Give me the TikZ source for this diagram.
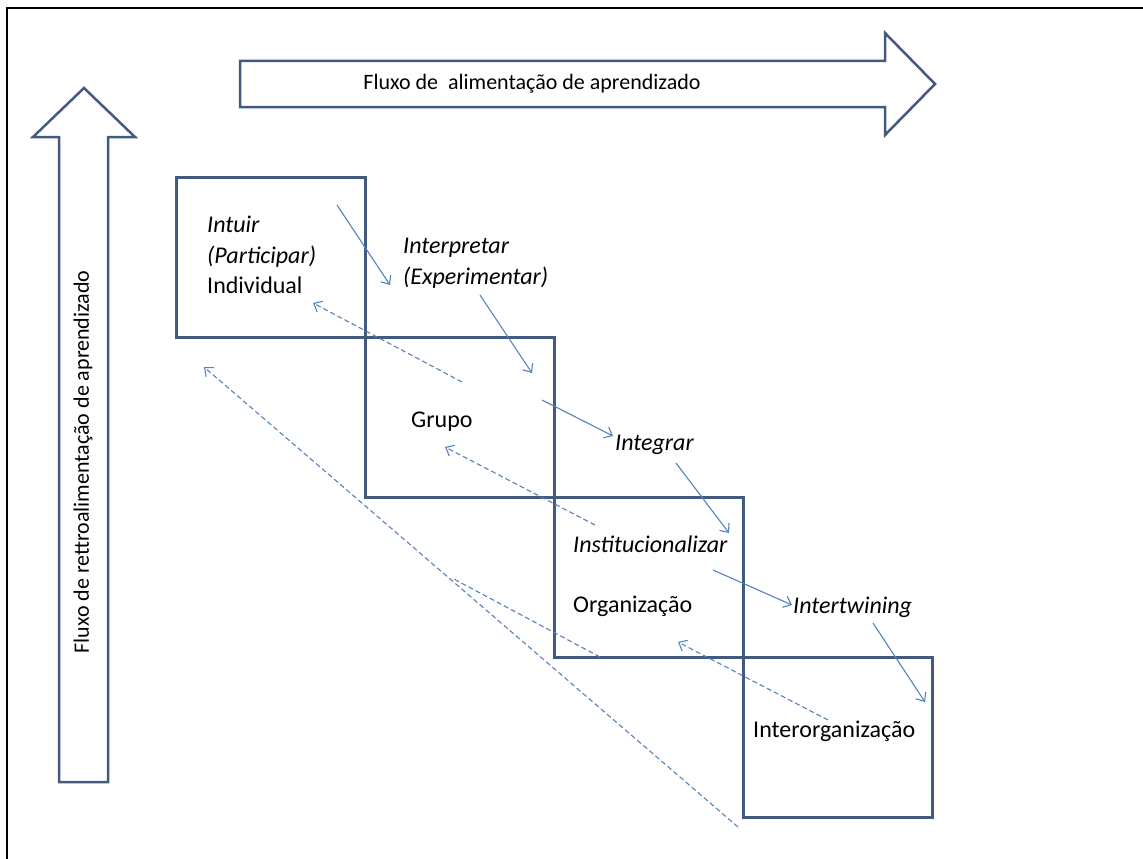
\documentclass[tikz,border=0pt]{standalone}
\usepackage{fontspec}
\setmainfont{Carlito}
\usetikzlibrary{positioning,arrows.meta}
\definecolor{boxblue}{RGB}{65,90,126}
\definecolor{linkblue}{RGB}{84,130,188}
\tikzset{%
stage/.style={draw=boxblue,line width=3pt,outer sep=0pt,inner sep=0pt,
  minimum width=189pt,minimum height=160pt},
lbl/.style={anchor=west,inner sep=0pt,text height=16pt,text depth=5pt,
  font=\fontsize{24}{28}\selectfont},
lblit/.style={lbl,font=\fontsize{24}{28}\selectfont\itshape},
blockarrow/.style={draw=boxblue,line width=2.5pt,line join=miter},
flow/.style={->,>={Straight Barb[length=7pt,width=12pt]},draw=linkblue,line width=1.1pt},
back/.style={flow,dash pattern=on 5pt off 3pt},
}
\begin{document}
\begin{tikzpicture}[x=1pt,y=-1pt]
    \useasboundingbox (0,0) rectangle (1143,859);
    \draw[line width=1.6pt] (7,859) |- (1143,8);
    % block arrows
    \draw[blockarrow] (240,61) -- (885,61) -- (885,33) -- (935,84)
        -- (885,135) -- (885,107) -- (240,107) -- cycle;
    \node[font=\fontsize{22}{26}\selectfont] (feed) at (532,84) {Fluxo de~ alimentação de aprendizado};
    \draw[blockarrow] (59,782) -- (59,137) -- (33,137) -- (84,88)
        -- (135,137) -- (108,137) -- (108,782) -- cycle;
    \node[rotate=90,font=\fontsize{22}{26}\selectfont] (feedback) at (83,462) {Fluxo de rettroalimentação de aprendizado};
    % stages
    \node[stage] (ind) at (270.5,257) {};
    \node[stage,below right=0pt of ind] (grp) {};
    \node[stage,below right=0pt of grp] (org) {};
    \node[stage,below right=0pt of org] (interorg) {};
    \node[lblit] (intuir) at (207,227) {Intuir};
    \node[lblit] (particip) at (207,258) {(Participar)};
    \node[lbl] (individual) at (207,288) {Individual};
    \node[lblit] (interp) at (403,248) {Interpretar};
    \node[lblit] (experim) at (403,279) {(Experimentar)};
    \node[lbl] (grupo) at (411,422) {Grupo};
    \node[lblit] (integrar) at (615,445) {Integrar};
    \node[lblit] (instit) at (573,547) {Institucionalizar};
    \node[lbl] (organiz) at (573,607) {Organização};
    \node[lblit] (intertw) at (793,608) {Intertwining};
    \node[lbl] (interorganiz) at (753,732) {Interorganização};
    % feed forward
    \coordinate (ff1) at (337,205); \coordinate (ff1e) at (390,285);
    \coordinate (ff2) at (480,295); \coordinate (ff2e) at (532,373);
    \coordinate (ff3) at (542,400); \coordinate (ff3e) at (613,436);
    \coordinate (ff4) at (676,463); \coordinate (ff4e) at (729,533);
    \coordinate (ff5) at (713,570); \coordinate (ff5e) at (792,605);
    \coordinate (ff6) at (873,623); \coordinate (ff6e) at (925,702);
    \draw[flow] (ff1) -- (ff1e);
    \draw[flow] (ff2) -- (ff2e);
    \draw[flow] (ff3) -- (ff3e);
    \draw[flow] (ff4) -- (ff4e);
    \draw[flow] (ff5) -- (ff5e);
    \draw[flow] (ff6) -- (ff6e);
    % feedback
    \coordinate (fb1) at (462,382); \coordinate (fb1e) at (313,303);
    \coordinate (fb2) at (595,525); \coordinate (fb2e) at (445,447);
    \coordinate (fb3) at (828,720); \coordinate (fb3e) at (678,642);
    \coordinate (fb4) at (738,827); \coordinate (fb4e) at (204,367);
    \coordinate (fb5) at (600,657); \coordinate (fb5e) at (452,578);
    \draw[back] (fb1) -- (fb1e);
    \draw[back] (fb2) -- (fb2e);
    \draw[back] (fb3) -- (fb3e);
    \draw[back] (fb4) -- (fb4e);
    \draw[back,-] (fb5) -- (fb5e);
\end{tikzpicture}
\end{document}
